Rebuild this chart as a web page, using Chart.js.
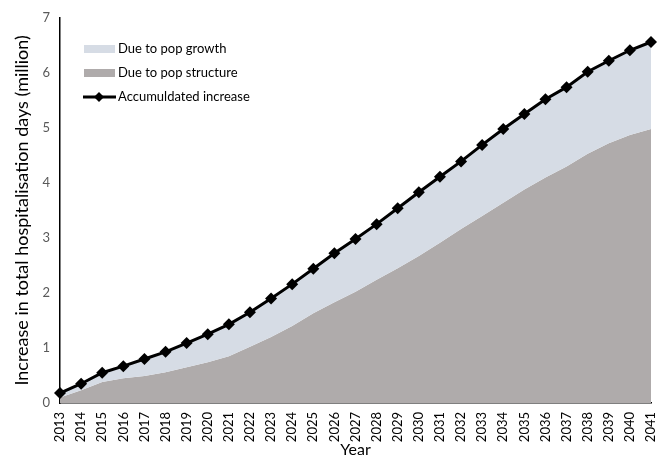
<!DOCTYPE html>
<html>
<head>
<meta charset="utf-8">
<script src="https://cdn.jsdelivr.net/npm/chart.js@4"></script>
<style>
  html, body { margin: 0; padding: 0; background: #fff; }
  #wrap { width: 659px; height: 459px; position: relative; }
</style>
</head>
<body>
<div id="wrap"><canvas id="chart"></canvas></div>
<script>
// Years on the x axis
const years = ['2013','2014','2015','2016','2017','2018','2019','2020','2021','2022',
    '2023','2024','2025','2026','2027','2028','2029','2030','2031','2032',
    '2033','2034','2035','2036','2037','2038','2039','2040','2041'];

// Accumulated increase (million days)
const accumulated = [0.18, 0.35, 0.55, 0.67, 0.80, 0.93, 1.09, 1.25, 1.43, 1.65,
    1.90, 2.16, 2.44, 2.72, 2.98, 3.25, 3.54, 3.83, 4.11, 4.39,
    4.69, 4.98, 5.25, 5.52, 5.74, 6.02, 6.22, 6.41, 6.56];

// Part due to population structure (lower grey area)
const popStructure = [0.10, 0.23, 0.38, 0.45, 0.49, 0.56, 0.65, 0.74, 0.85, 1.02,
    1.20, 1.40, 1.63, 1.83, 2.02, 2.24, 2.45, 2.67, 2.91, 3.16,
    3.40, 3.64, 3.88, 4.10, 4.30, 4.53, 4.72, 4.87, 4.98];

const yTicks = [0, 1, 2, 3, 4, 5, 6, 7];

const FONT = 'Lato, "Open Sans", sans-serif';

// Draw legend inside plot area, top-left like the original
const insideLegend = {
    id: 'insideLegend',
    afterDraw(chart) {
        const ctx = chart.ctx;
        const x0 = 84, textX = 118;
        ctx.save();
        ctx.font = '13px ' + FONT;
        ctx.textBaseline = 'middle';

        ctx.fillStyle = '#D6DCE5';
        ctx.fillRect(x0, 45, 31, 8);
        ctx.fillStyle = '#000';
        ctx.fillText('Due to pop growth', textX, 49);

        ctx.fillStyle = '#AFABAB';
        ctx.fillRect(x0, 69, 31, 8);
        ctx.fillStyle = '#000';
        ctx.fillText('Due to pop structure', textX, 73);

        ctx.strokeStyle = '#000';
        ctx.lineWidth = 3;
        ctx.beginPath();
        ctx.moveTo(83, 97);
        ctx.lineTo(116, 97);
        ctx.stroke();
        ctx.beginPath();
        ctx.moveTo(99, 92); ctx.lineTo(104, 97); ctx.lineTo(99, 102); ctx.lineTo(94, 97);
        ctx.closePath();
        ctx.fill();
        ctx.fillText('Accumuldated increase', textX, 97);
        ctx.restore();
    }
};

new Chart(document.getElementById('chart'), {
    type: 'line',
    data: {
        labels: years,
        datasets: [
            {
                label: 'Accumuldated increase',
                data: accumulated,
                borderColor: '#000',
                backgroundColor: '#000',
                borderWidth: 3,
                pointStyle: 'rectRot',
                pointRadius: 6,
                pointBorderWidth: 0,
                fill: false,
                tension: 0,
                order: 0
            },
            {
                label: 'Due to pop growth',
                data: accumulated,
                borderWidth: 0,
                pointRadius: 0,
                backgroundColor: '#D6DCE5',
                fill: '+1',
                order: 1
            },
            {
                label: 'Due to pop structure',
                data: popStructure,
                borderWidth: 0,
                pointRadius: 0,
                backgroundColor: '#AFABAB',
                fill: 'origin',
                order: 2
            }
        ]
    },
    options: {
        responsive: true,
        maintainAspectRatio: false,
        animation: false,
        layout: { padding: { top: 11, right: 8, left: 6, bottom: 0 } },
        plugins: {
            legend: { display: false },
            tooltip: { enabled: false }
        },
        scales: {
            x: {
                offset: false,
                afterFit(scale) {
                    scale.height = 56;
                    scale.paddingLeft = 0;
                    scale.paddingRight = 0;
                },
                grid: { display: false, drawOnChartArea: false, drawTicks: true, tickLength: 5, color: '#000' },
                border: { display: true, color: '#000', width: 1.5 },
                ticks: {
                    color: '#000',
                    font: { family: FONT, size: 13 },
                    maxRotation: 90,
                    minRotation: 90,
                    autoSkip: false,
                    padding: 4
                },
                title: {
                    display: true,
                    text: 'Year',
                    color: '#000',
                    font: { family: FONT, size: 16 },
                    padding: { top: 0, bottom: 0 }
                }
            },
            y: {
                min: 0,
                max: 7,
                afterBuildTicks(scale) {
                    scale.ticks = yTicks.map(v => ({ value: v }));
                },
                afterFit(scale) { scale.width = 54; },
                grid: { display: false, drawTicks: false },
                border: { display: true, color: '#000', width: 1.5 },
                ticks: {
                    color: '#595959',
                    font: { family: FONT, size: 13 },
                    padding: 10
                },
                title: {
                    display: true,
                    text: 'Increase in total hospitalisation days (million)',
                    color: '#000',
                    font: { family: FONT, size: 18 },
                    padding: { top: 5, bottom: 4 }
                }
            }
        }
    },
    plugins: [insideLegend]
});
</script>
</body>
</html>
